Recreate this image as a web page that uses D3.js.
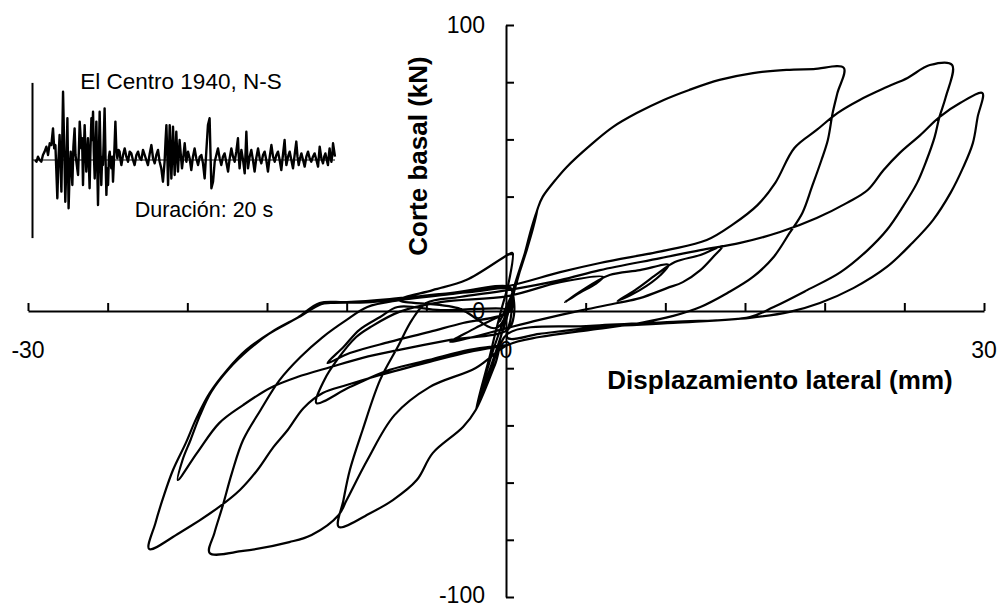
<!DOCTYPE html>
<html>
<head>
<meta charset="utf-8">
<script src="https://cdn.jsdelivr.net/npm/d3@7"></script>
<style>
  body { margin: 0; background: #fff; }
  svg { display: block; font-family: "Liberation Sans", Arial, sans-serif; }
</style>
</head>
<body>
<div id="chart"></div>
<script>
// tick values
const xTicks = [-30, -25, -20, -15, -10, -5, 0, 5, 10, 15, 20, 25, 30];
const yTicks = [-100, -80, -60, -40, -20, 0, 20, 40, 60, 80, 100];
const xLabels = [-30, 0, 30];
const yLabels = [100, 0, -100];

// hysteresis: [displacement mm, base shear kN]
const hysteresis = [
  [0,0],[0.3,3.8],[-0.4,-3.8],[0.5,7.3],[-0.6,-5.9],
  [-3.0,1.0],[-6.7,3.8],[-4.6,7.3],[-2.5,10.8],[0.1,19.6],[0.4,20.3],
  [0.2,10.8],[-0.3,0.3],[-0.7,-8.4],[-1.0,-15.4],[-1.9,-34.6],
  [-1.2,-23.4],[-0.5,-11.9],[0.1,-1.4],[0.6,9.1],[1.3,21.3],[1.7,29.0],[2.0,36.0],
  [1.6,29.0],[1.1,18.5],[0.5,6.6],[-0.2,-6.6],[-0.9,-19.9],[-1.9,-34.6],
  [-1.4,-24.8],[-0.8,-13.6],[-0.1,-2.4],[0.6,10.1],[1.4,24.1],[2.0,36.0],
  [2.3,39.9],[3.1,45.8],[3.8,50.3],[5.3,58.0],[6.7,64.3],[8.2,69.2],[9.9,73.8],[11.5,77.3],[13.4,80.8],[15.5,83.2],[17.6,84.3],[19.3,84.6],[21.2,85.0],
  [20.8,76.2],[20.5,69.2],[20.2,59.8],[19.8,52.8],[19.2,43.4],[18.6,34.3],[17.8,27.3],[16.8,18.9],[15.5,11.9],[13.9,6.3],[12.2,1.4],[10.5,-1.7],[8.4,-4.2],[5.3,-6.6],[2.1,-9.1],[0.1,-11.9],[-1.9,-19.9],
  [-4.8,-26.6],[-7.0,-36.4],[-8.7,-52.1],[-10.0,-66.1],[-10.5,-71.3],[-12.2,-78.3],[-13.6,-80.8],[-16.5,-83.9],[-18.6,-84.6],
  [-18.3,-77.6],[-17.8,-68.5],[-17.2,-56.6],[-16.5,-45.1],[-15.4,-34.6],[-14.2,-24.1],[-12.9,-16.1],[-11.5,-9.1],[-10.0,-3.1],[-8.7,1.4],[-6.7,3.8],[-3.5,5.9],[0.1,8.7],[3.4,13.6],
  [5.9,16.8],[10.1,21.3],[12.6,24.8],[14.2,30.1],[15.8,37.1],[16.9,44.8],[18.1,57.0],[19.5,63.3],[20.8,69.2],[22.2,73.8],[23.9,78.3],[25.2,81.5],[26.6,86.0],[28.0,86.0],
  [27.6,74.8],[27.2,67.8],[26.9,60.8],[26.4,52.8],[25.8,44.8],[24.9,36.4],[23.9,28.3],[22.7,21.3],[21.0,13.6],[18.9,7.3],[16.8,1.4],[15.3,-2.1],[10.5,-3.8],[5.3,-5.2],[0.1,-8.0],[-0.7,-18.9],[-1.9,-34.6],
  [-2.7,-40.6],[-4.6,-49.7],[-5.6,-59.1],[-7.1,-66.1],[-8.5,-70.6],[-10.5,-75.5],
  [-10.2,-66.1],[-9.8,-55.6],[-9.0,-41.6],[-7.9,-24.1],[-6.8,-12.6],[-5.9,-3.1],[-5.0,2.8],[-2.9,4.9],[0.1,7.3],
  [3.4,10.8],[5.9,14.3],[9.7,18.5],[12.2,21.3],[14.7,23.8],[17.2,27.6],[19.5,32.5],[21.4,37.8],[22.7,42.3],[23.7,49.3],[24.7,55.2],[26.0,61.5],[27.2,67.8],[28.5,72.7],[29.9,76.2],
  [29.6,67.8],[29.3,58.7],[28.7,50.3],[27.9,41.3],[26.8,31.8],[25.5,23.8],[23.9,15.4],[21.8,8.0],[19.7,2.8],[17.8,-0.3],[15.3,-2.4],[10.5,-4.2],[5.3,-5.9],[2.1,-8.0],[0.1,-9.4],
  [0.3,-2.4],[0.4,7.3],[0.1,8.0],[-2.3,6.6],[-4.8,5.6],[-8.5,3.1],[-11.0,2.8],[-11.6,2.4],
  [-13.0,-2.1],[-14.7,-7.3],[-16.1,-13.3],[-17.4,-20.3],[-18.5,-28.3],[-19.2,-36.4],[-19.8,-45.1],[-20.3,-52.1],[-20.6,-59.1],
  [-19.4,-49.7],[-18.0,-39.2],[-16.5,-32.9],[-14.8,-26.9],[-13.1,-23.1],[-11.0,-19.6],[-9.0,-16.4],[-6.7,-13.6],[-3.5,-10.1],[0.1,-6.6],
  [0.5,-1.4],[0.4,6.6],[0.2,8.5],[-3.5,6.3],[-7.3,4.2],[-10.0,3.1],[-11.7,2.8],
  [-13.1,-2.4],[-14.8,-7.7],[-16.3,-13.6],[-17.5,-20.6],[-18.6,-28.7],[-19.4,-37.1],[-20.1,-46.2],[-20.9,-55.6],[-21.5,-65.0],[-22.0,-74.1],[-22.4,-83.2],
  [-20.5,-77.6],[-18.0,-68.5],[-16.7,-62.6],[-15.6,-55.6],[-14.6,-47.6],[-13.7,-41.6],[-12.7,-33.9],[-11.5,-28.7],[-10.0,-25.9],[-7.9,-22.4],[-4.8,-17.8],[-2.3,-14.3],[0.1,-11.9],
  [-2.3,-13.6],[-4.8,-17.1],[-7.3,-20.6],[-9.8,-26.6],[-11.9,-32.2],
  [-11.4,-24.1],[-10.6,-17.1],[-9.4,-9.1],[-8.5,-5.6],[-6.7,-0.3],[-4.1,3.1],[0.1,5.2],
  [3.4,10.1],[6.1,11.9],[5.6,9.4],[4.6,6.3],[3.7,3.1],[4.6,6.6],[5.6,10.1],[6.5,12.6],[8.4,14.3],[10.2,16.1],
  [9.7,12.6],[8.4,7.3],[7.0,3.5],[8.1,7.3],[9.4,12.6],[10.6,17.1],[12.2,19.6],[13.6,22.7],
  [13.0,18.9],[12.2,14.3],[11.1,10.1],[10.1,8.0],[8.4,4.5],[7.0,2.8],[4.8,0.3],[2.1,-3.1],[0.1,-5.9],[-2.3,-9.4],[-3.5,-10.8],
  [-1.9,-5.9],[0.1,0.3],[-4.1,0.3],[-6.8,1.4],
  [-7.9,-2.1],[-9.2,-6.6],[-10.2,-12.6],[-11.2,-18.2],
  [-9.8,-14.7],[-7.3,-10.8],[-4.8,-7.3],[-2.7,-4.2],[0.1,-0.7],[0.4,2.0]
];

// El Centro 1940 N-S record: [time s, acceleration g]
const quake = [
  [0.00,0.000],[0.10,-0.009],[0.20,0.017],[0.31,0.000],[0.42,-0.009],[0.53,0.026],[0.64,0.043],[0.76,0.069],[0.87,0.026],[0.98,0.086],[1.09,0.077],
  [1.20,0.163],[1.28,0.060],[1.36,0.077],[1.49,-0.198],[1.56,0.000],[1.64,0.129],[1.76,-0.163],[1.87,0.352],[1.95,0.052],[2.02,-0.215],[2.10,0.000],[2.16,0.215],
  [2.24,-0.249],[2.31,-0.060],[2.38,0.043],[2.43,-0.034],[2.49,-0.129],[2.56,0.069],[2.64,0.163],[2.70,0.026],[2.76,-0.009],[2.87,-0.077],[2.93,0.060],[2.98,0.198],[3.09,0.060],
  [3.14,0.112],[3.20,-0.129],[3.25,0.034],[3.31,0.180],[3.37,0.043],[3.42,-0.060],[3.48,0.026],[3.53,0.112],[3.58,0.009],[3.64,-0.146],[3.70,0.060],[3.76,0.215],[3.80,0.103],[3.87,0.249],[3.92,0.043],[3.98,-0.095],
  [4.04,0.052],[4.09,0.198],[4.15,-0.034],[4.20,-0.232],[4.26,0.026],[4.31,0.249],[4.37,0.034],[4.42,-0.129],[4.48,0.017],[4.53,-0.026],[4.58,0.095],[4.64,0.266],[4.70,0.017],[4.76,-0.180],[4.81,-0.043],[4.87,-0.129],
  [4.93,0.017],[4.98,0.043],[5.03,-0.009],[5.09,-0.043],[5.15,0.017],[5.20,-0.112],[5.28,0.026],[5.36,0.198],[5.42,0.060],[5.49,0.009],[5.57,0.052],[5.64,0.043],[5.70,0.000],[5.76,-0.026],[5.87,0.026],[5.98,0.060],
  [6.09,0.017],[6.20,-0.009],[6.31,0.043],[6.42,0.034],[6.53,0.000],[6.64,-0.026],[6.76,0.026],[6.87,0.043],[6.98,0.009],[7.09,0.000],[7.20,0.052],[7.31,0.026],[7.42,0.000],[7.53,-0.026],[7.65,0.034],[7.76,0.077],
  [7.87,0.009],[7.98,-0.017],[8.09,0.026],[8.20,0.052],[8.31,-0.009],[8.42,-0.043],[8.53,-0.112],[8.64,-0.009],[8.70,0.095],[8.76,0.180],[8.82,0.026],[8.87,-0.129],[8.93,0.034],[8.98,0.180],
  [9.04,0.043],[9.09,-0.095],[9.15,0.026],[9.20,0.172],[9.26,0.043],[9.31,-0.077],[9.37,0.026],[9.42,0.146],[9.48,0.034],[9.53,-0.060],[9.58,0.017],[9.64,0.103],[9.72,0.026],[9.80,-0.043],[9.89,0.017],[9.98,0.086],
  [10.09,-0.009],[10.20,0.043],[10.31,0.009],[10.42,-0.052],[10.53,0.017],[10.64,0.060],[10.75,0.009],[10.87,-0.026],[10.98,0.017],[11.09,0.026],[11.20,-0.017],[11.31,-0.095],[11.42,0.043],[11.53,0.180],
  [11.64,0.215],[11.70,0.034],[11.76,-0.146],[11.87,-0.112],[11.98,-0.009],[12.09,0.026],[12.20,0.060],[12.31,0.009],[12.42,-0.026],[12.53,0.017],[12.64,0.034],[12.75,-0.009],[12.87,-0.060],[12.98,0.009],
  [13.09,0.060],[13.20,0.017],[13.31,-0.009],[13.42,0.043],[13.53,0.112],[13.58,0.026],[13.64,-0.043],[13.70,0.009],[13.76,0.052],[13.87,0.000],[13.98,-0.069],[14.04,0.043],[14.09,0.146],[14.15,0.026],[14.20,-0.043],
  [14.31,0.017],[14.42,0.052],[14.53,0.000],[14.64,-0.060],[14.75,0.009],[14.87,0.060],[14.98,0.009],[15.09,-0.017],[15.20,0.026],[15.31,0.043],[15.42,0.000],[15.53,-0.060],[15.65,0.017],[15.76,0.077],[15.87,0.017],[15.98,-0.009],
  [16.09,0.026],[16.20,0.043],[16.31,0.000],[16.42,-0.052],[16.53,0.026],[16.64,0.103],[16.70,0.026],[16.76,-0.026],[16.87,0.017],[16.98,0.043],[17.09,0.000],[17.20,-0.043],[17.31,0.026],[17.42,0.095],[17.50,0.017],[17.58,-0.026],
  [17.67,0.009],[17.76,0.034],[17.87,0.000],[17.98,-0.034],[18.09,0.017],[18.20,0.043],[18.31,0.009],[18.42,-0.009],[18.53,0.017],[18.64,0.034],[18.76,0.000],[18.87,-0.034],[18.98,0.069],[19.09,0.009],[19.20,-0.017],
  [19.28,0.017],[19.36,0.034],[19.45,0.000],[19.53,-0.026],[19.58,0.017],[19.64,0.060],[19.70,0.017],[19.76,-0.009],[19.82,0.026],[19.87,0.086],[20.00,0.017]
];

const width = 1003, height = 608;

const svg = d3.select("#chart")
    .append("svg")
    .attr("width", width)
    .attr("height", height);

const x = d3.scaleLinear().domain([-30, 30]).range([28, 984]);
const y = d3.scaleLinear().domain([-100, 100]).range([597, 25]);

// axes, ticks pointing inward
svg.append("g")
    .attr("transform", `translate(0,${y(0)})`)
    .call(d3.axisBottom(x).tickValues(xTicks).tickSize(-8).tickSizeOuter(0).tickFormat(""));
svg.append("g")
    .attr("transform", `translate(${x(0)},0)`)
    .call(d3.axisLeft(y).tickValues(yTicks).tickSize(-8).tickSizeOuter(0).tickFormat(""));
svg.selectAll(".domain, .tick line")
    .attr("stroke", "#000")
    .attr("stroke-width", 2);

svg.append("g").selectAll("text")
    .data(xLabels)
    .join("text")
    .attr("x", d => x(d))
    .attr("y", 358)
    .attr("text-anchor", "middle")
    .attr("font-size", "23px")
    .text(d => d);

// -100 sits right at the bottom edge, keep it inside
svg.append("g").selectAll("text")
    .data(yLabels)
    .join("text")
    .attr("x", 485)
    .attr("y", d => d === -100 ? y(d) + 6 : y(d) + 8)
    .attr("text-anchor", "end")
    .attr("font-size", "23px")
    .text(d => d);

svg.append("text")
    .attr("x", 780)
    .attr("y", 389)
    .attr("text-anchor", "middle")
    .attr("font-size", "26px")
    .attr("font-weight", "bold")
    .text("Displazamiento lateral (mm)");

svg.append("text")
    .attr("transform", "translate(427,156) rotate(-90)")
    .attr("text-anchor", "middle")
    .attr("font-size", "26px")
    .attr("font-weight", "bold")
    .text("Corte basal (kN)");

// hysteresis curve
const line = d3.line()
    .x(d => x(d[0]))
    .y(d => y(d[1]))
    .curve(d3.curveCatmullRom.alpha(0.5));

svg.append("path")
    .datum(hysteresis)
    .attr("d", line)
    .attr("fill", "none")
    .attr("stroke", "#000")
    .attr("stroke-width", 2.2)
    .attr("stroke-linejoin", "round");

// inset accelerogram
const tx = d3.scaleLinear().domain([0, 20]).range([35, 335]);
const ay = d3.scaleLinear().domain([-0.4, 0.4]).range([237.6, 82.4]);

svg.append("line")
    .attr("x1", 32).attr("x2", 335)
    .attr("y1", ay(0)).attr("y2", ay(0))
    .attr("stroke", "#000")
    .attr("stroke-width", 1);

svg.append("g")
    .attr("transform", "translate(32,0)")
    .call(d3.axisLeft(ay).tickValues([]).tickSizeOuter(0))
    .select(".domain")
    .attr("stroke", "#000")
    .attr("stroke-width", 2);

svg.append("path")
    .datum(quake)
    .attr("d", d3.line().x(d => tx(d[0])).y(d => ay(d[1])))
    .attr("fill", "none")
    .attr("stroke", "#000")
    .attr("stroke-width", 2.4)
    .attr("stroke-linejoin", "round");

svg.append("text")
    .attr("x", 181)
    .attr("y", 89)
    .attr("text-anchor", "middle")
    .attr("font-size", "22.5px")
    .text("El Centro 1940, N-S");

svg.append("text")
    .attr("x", 204)
    .attr("y", 217)
    .attr("text-anchor", "middle")
    .attr("font-size", "21.5px")
    .text("Duración: 20 s");
</script>
</body>
</html>
